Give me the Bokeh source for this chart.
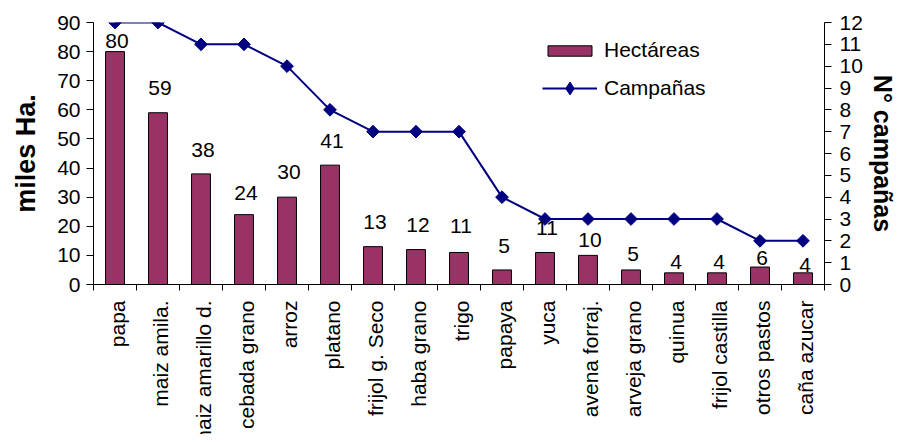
from math import pi
from bokeh.plotting import figure
from bokeh.layouts import column
from bokeh.models import (Range1d, LinearAxis, FixedTicker, Legend, LegendItem,
                          ColumnDataSource)
from bokeh.core.properties import value
from bokeh.embed import file_html
from bokeh.resources import INLINE

categories = ["papa", "maiz amila.", "maiz amarillo d.", "cebada grano", "arroz", "platano",
              "frijol g. Seco", "haba grano", "trigo", "papaya", "yuca", "avena forraj.",
              "arveja grano", "quinua", "frijol castilla", "otros pastos", "caña azucar"]
hectareas = [80, 59, 38, 24, 30, 41, 13, 12, 11, 5, 11, 10, 5, 4, 4, 6, 4]
campanas = [12, 12, 11, 11, 10, 8, 7, 7, 7, 4, 3, 3, 3, 3, 3, 2, 2]
left_ticks = list(range(0, 91, 10))
right_ticks = list(range(0, 13))

# label gap (px) between bar top and label baseline (style)
label_gap = [5, 19, 18, 16, 19, 18, 19, 19, 20, 18, 18, 9, 10, 5, 5, 3, 2]
BASELINE_FIX = 6

FONT = "Liberation Sans"
FS = "21px"
n = len(categories)
xs = [i + 0.5 for i in range(n)]

src = ColumnDataSource(dict(
    x=xs, top=hectareas, camp=campanas, cat=categories, one=[1] * n,
    lab=[str(v) for v in hectareas],
    yoff=[-(g + BASELINE_FIX) for g in label_gap],
))

W = 899
p = figure(width=W, height=300, x_range=Range1d(0, n), y_range=Range1d(0, 90),
           output_backend="svg", toolbar_location=None,
           min_border_left=93, min_border_right=71, min_border_top=22, min_border_bottom=16)
p.outline_line_color = None
p.xgrid.visible = False
p.ygrid.visible = False
p.background_fill_color = "white"
p.border_fill_color = "white"

p.extra_y_ranges = {"camp": Range1d(0, 12)}

# x axis: tick marks at category boundaries (labels drawn in the panel below)
xa = p.xaxis[0]
xa.ticker = FixedTicker(ticks=xs, minor_ticks=list(range(n + 1)))
xa.major_label_overrides = {x: "" for x in xs}
xa.major_label_text_font_size = "0px"
xa.major_label_standoff = 0
xa.major_tick_line_color = None
xa.major_tick_out = 6
xa.major_tick_in = 0
xa.minor_tick_out = 6
xa.minor_tick_in = 0
xa.minor_tick_line_color = "black"
xa.axis_line_color = "black"

# left axis
ya = p.yaxis[0]
ya.ticker = FixedTicker(ticks=left_ticks)
ya.minor_tick_line_color = None
ya.major_tick_out = 7
ya.major_tick_in = 0
ya.major_label_standoff = 6
ya.major_label_text_font = FONT
ya.major_label_text_font_size = FS
ya.major_label_text_color = "black"
ya.axis_label = "miles Ha."
ya.axis_label_text_font = FONT
ya.axis_label_text_font_style = "bold"
ya.axis_label_text_font_size = "27px"
ya.axis_label_text_color = "black"
ya.axis_label_standoff = 13
ya.axis_line_color = "black"

# right axis
ra = LinearAxis(y_range_name="camp", ticker=FixedTicker(ticks=right_ticks))
ra.minor_tick_line_color = None
ra.major_tick_out = 7
ra.major_tick_in = 0
ra.major_label_standoff = 8
ra.major_label_text_font = FONT
ra.major_label_text_font_size = FS
ra.major_label_text_color = "black"
ra.axis_label = "N° campañas"
ra.axis_label_text_font = FONT
ra.axis_label_text_font_style = "bold"
ra.axis_label_text_font_size = "25px"
ra.axis_label_text_color = "black"
ra.axis_label_standoff = 3
ra.axis_line_color = "black"
p.add_layout(ra, "right")

bars = p.vbar(x="x", top="top", width=0.44, source=src,
              fill_color="#993366", line_color="black", line_width=1)

ln = p.line(x="x", y="camp", source=src, y_range_name="camp",
            line_color="#000080", line_width=2)
mk = p.scatter(x="x", y="camp", source=src, y_range_name="camp",
               marker="square", angle=pi / 4, size=9,
               fill_color="#000080", line_color="#000080")
# legend-only marker (legend ignores marker angle); NaN point is not drawn
mk_leg = p.scatter(x=[float("nan")], y=[float("nan")], y_range_name="camp", marker="diamond",
                   fill_color="#000080", line_color="#000080")

p.text(x="x", y="top", text="lab", source=src, y_offset="yoff", x_offset=2,
       text_align="center", text_baseline="alphabetic",
       text_font=value(FONT), text_font_size=FS, text_color="black")


def style_legend(lg, gh):
    lg.border_line_color = None
    lg.background_fill_alpha = 0
    lg.padding = 0
    lg.margin = 0
    lg.label_text_font = FONT
    lg.label_text_font_size = FS
    lg.label_text_color = "black"
    lg.glyph_width = 55
    lg.glyph_height = gh
    lg.label_height = gh
    lg.label_standoff = 7


leg1 = Legend(items=[LegendItem(label="Hectáreas", renderers=[bars])], location=(449, 222))
style_legend(leg1, 13)
leg2 = Legend(items=[LegendItem(label="Campañas", renderers=[ln, mk_leg])], location=(449, 180))
style_legend(leg2, 32)
p.add_layout(leg1)
p.add_layout(leg2)

# category labels panel below the chart, sharing the x range
p2 = figure(width=W, height=134, x_range=p.x_range, y_range=Range1d(0, 1),
            output_backend="svg", toolbar_location=None,
            x_axis_type=None, y_axis_type=None,
            min_border_left=93, min_border_right=71, min_border_top=0, min_border_bottom=0)
p2.outline_line_color = None
p2.xgrid.visible = False
p2.ygrid.visible = False
p2.background_fill_color = "white"
p2.border_fill_color = "white"
p2.text(x="x", y="one", text="cat", source=src, angle=pi / 2, y_offset=0, x_offset=2,
        text_align="right", text_baseline="middle",
        text_font=value(FONT), text_font_size=FS, text_color="black")

layout = column(p, p2, spacing=0)
open("out.html", "w").write(file_html(layout, INLINE))
